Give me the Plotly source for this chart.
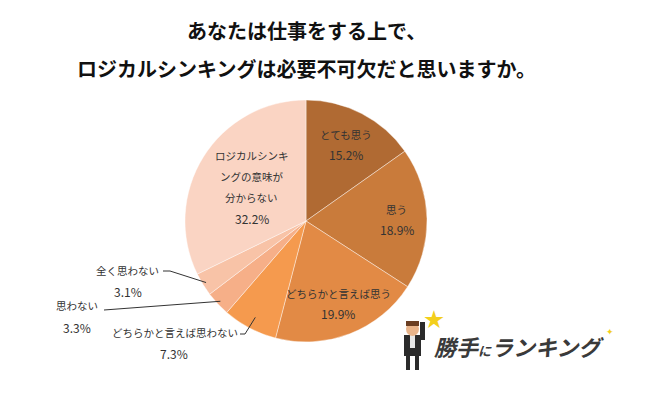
import math
import plotly.graph_objects as go

# ---- data ----
labels = ["とても思う", "思う", "どちらかと言えば思う", "どちらかと言えば思わない",
          "思わない", "全く思わない", "ロジカルシンキングの意味が分からない"]
values = [15.2, 18.9, 19.9, 7.3, 3.3, 3.1, 32.2]
colors = ["#B06A33", "#C97B3B", "#E28A45", "#F59A4E", "#F6AF88", "#F8C3A7", "#FAD4C3"]
title_lines = ["あなたは仕事をする上で、", "ロジカルシンキングは必要不可欠だと思いますか。"]
# label display lines (how text wraps in the chart)
label_lines = [["とても思う"], ["思う"], ["どちらかと言えば思う"], ["どちらかと言えば思わない"],
               ["思わない"], ["全く思わない"], ["ロジカルシンキ", "ングの意味が", "分からない"]]

OFF = 8  # page body margin
W, H = 650 - OFF, 393 - OFF
FONT = "Noto Sans CJK JP"
CX, CY, R = 306, 221, 121  # pie centre/radius in window pixels (layout)

def px(x):
    return (x - OFF) / W

def py(y):
    return 1 - (y - OFF) / H

fig = go.Figure(go.Pie(
    labels=labels, values=values, sort=False, direction="clockwise", rotation=0,
    marker=dict(colors=colors, line=dict(color="rgba(255,255,255,0.6)", width=0.7)),
    textinfo="none", hoverinfo="label+value", showlegend=False,
    domain=dict(x=[px(CX - R), px(CX + R)], y=[py(CY + R), py(CY - R)]),
))

annotations = []
shapes = []

def add_lines(lines, x, y, spacing=20, color="#333333", xanchor="center"):
    n = len(lines)
    for i, t in enumerate(lines):
        yy = y + (i - (n - 1) / 2) * spacing
        size = 12 if t.endswith("%") else 10.5
        annotations.append(dict(text=t, x=px(x), y=py(yy), xref="paper", yref="paper",
                                showarrow=False, xanchor=xanchor, yanchor="middle",
                                font=dict(family=FONT, size=size, color=color)))

# mid-angle of each slice (clockwise from 12 o'clock)
total = sum(values)
cum = 0
mids = []
for v in values:
    mids.append((cum + v / 2) / total * 2 * math.pi)
    cum += v

def polar(i, frac):
    a = mids[i]
    return CX + frac * R * math.sin(a), CY - frac * R * math.cos(a)

# inside labels
inside = {0: 0.71, 1: 0.75, 2: 0.73, 6: 0.53}
for i, frac in inside.items():
    x, y = polar(i, frac)
    txt = label_lines[i] + [f"{values[i]:.1f}%"]
    add_lines(txt, x, y, spacing=20 if i != 6 else 21)

# outside labels with leader lines
outside = {
    5: dict(text_xy=(127, 270), pct_xy=(128, 291), path=lambda ex, ey: f"M {px(163)},{py(271)} L {px(170)},{py(271)} L {px(ex)},{py(ey)}"),
    4: dict(text_xy=(77, 305), pct_xy=(77, 327), path=lambda ex, ey: f"M {px(104)},{py(310)} L {px(ex)},{py(ey)}"),
    3: dict(text_xy=(175, 332), pct_xy=(174, 353), path=lambda ex, ey: f"M {px(240)},{py(334)} L {px(245)},{py(334)} L {px(ex)},{py(ey)}"),
}
for i, o in outside.items():
    add_lines(label_lines[i], *o["text_xy"])
    add_lines([f"{values[i]:.1f}%"], *o["pct_xy"])
    ex, ey = polar(i, 0.97 if i != 3 else 0.9)
    shapes.append(dict(type="path", xref="paper", yref="paper", path=o["path"](ex, ey),
                       line=dict(color="#333333", width=1)))

# title
for t, y in zip(title_lines, [30, 68]):
    annotations.append(dict(text=f"<b>{t}</b>", x=px(CX), y=py(y), xref="paper", yref="paper",
                            showarrow=False, xanchor="center", yanchor="middle",
                            font=dict(family=FONT, size=20, color="#111111")))

# logo (decoration)
annotations.append(dict(text="<b><i>勝手<span style='font-size:13px'>に</span>ランキング</i></b>",
                        x=px(432), y=py(346), xref="paper", yref="paper", showarrow=False,
                        xanchor="left", yanchor="middle",
                        font=dict(family=FONT, size=22, color="#3A3A3A")))
annotations.append(dict(text="★", x=px(434), y=py(318), xref="paper", yref="paper", showarrow=False,
                        xanchor="center", yanchor="middle", font=dict(family=FONT, size=20, color="#F3CF1C")))
annotations.append(dict(text="✦", x=px(610), y=py(331), xref="paper", yref="paper", showarrow=False,
                        xanchor="center", yanchor="middle", font=dict(family=FONT, size=9, color="#F3CF1C")))
# little person
def rect(x0, y0, x1, y1, col):
    shapes.append(dict(type="rect", xref="paper", yref="paper", x0=px(x0), x1=px(x1), y0=py(y1), y1=py(y0),
                       fillcolor=col, line=dict(width=0)))
def circ(x0, y0, x1, y1, col):
    shapes.append(dict(type="circle", xref="paper", yref="paper", x0=px(x0), x1=px(x1), y0=py(y1), y1=py(y0),
                       fillcolor=col, line=dict(width=0)))
rect(404, 335, 421, 356, "#2B2B2B")      # body
rect(410, 335, 415, 348, "#E8E8E8")      # shirt
rect(406, 356, 410, 370, "#2B2B2B")      # leg
rect(415, 356, 419, 370, "#2B2B2B")      # leg
rect(420, 322, 425, 340, "#2B2B2B")      # raised arm
circ(406, 322, 419, 336, "#E9B48A")      # head
rect(406, 321, 419, 326, "#6B3E22")      # hair

fig.update_layout(width=W, height=H, margin=dict(l=0, r=0, t=0, b=0),
                  paper_bgcolor="white", plot_bgcolor="white",
                  annotations=annotations, shapes=shapes)
fig.write_html("out.html")
